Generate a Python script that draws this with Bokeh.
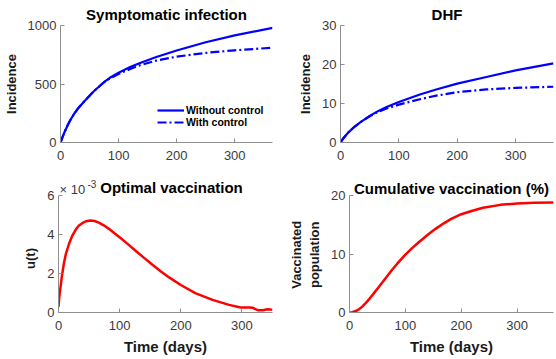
from bokeh.plotting import figure
from bokeh.layouts import column, row
from bokeh.models import Range1d, FixedTicker, Label, Legend, LegendItem, CustomJSTickFormatter
from bokeh.embed import file_html
from bokeh.resources import INLINE

# ---------------- data ----------------
# Symptomatic infection (incidence)
sym_t_no = [0, 3, 7, 12.5, 17, 23.8, 30, 40.8, 50, 57.8, 74.8, 85, 100, 120, 137, 165, 200, 250, 300, 365]
sym_no = [0, 40, 90, 150, 192, 248, 290, 351, 400, 440, 515, 553, 596, 645, 680, 731, 786, 857, 915, 980]
sym_t_ctl = [0, 3, 7, 12.5, 17, 23.8, 30, 40.8, 50, 57.8, 74.8, 85, 100, 120, 137, 165, 200, 250, 300, 365]
sym_ctl = [0, 40, 90, 150, 192, 248, 290, 351, 400, 440, 515, 548, 586, 628, 660, 700, 734, 766, 788, 810]

# DHF (incidence)
dhf_t_no = [0, 5, 10, 15, 22.6, 35, 50.8, 65, 79, 100, 136, 164, 200, 250, 300, 365]
dhf_no = [0, 1.1, 2.0, 2.8, 3.85, 5.3, 6.9, 8.1, 9.1, 10.4, 12.3, 13.6, 15.1, 16.8, 18.5, 20.3]
dhf_t_ctl = [0, 5, 10, 15, 22.6, 35, 50.8, 65, 79, 100, 136, 164, 200, 250, 300, 365]
dhf_ctl = [0, 1.1, 2.0, 2.8, 3.85, 5.3, 6.8, 7.9, 8.7, 9.7, 11.1, 12.0, 12.9, 13.6, 14.0, 14.3]

# Optimal vaccination u(t)
u_t = [0, 1, 2, 3.3, 5.5, 8.7, 12, 17, 22, 28, 33, 38.8, 45, 52.5, 59, 66, 74, 82.5, 90,
       100, 113, 126, 140, 153.6, 167, 181, 200, 224.6, 252, 279, 298, 312, 318, 322,
       326, 334, 342, 347, 350]
u_val = [0.00029, 0.0007, 0.001, 0.0013, 0.00185, 0.0025, 0.003, 0.0035, 0.0039, 0.00424,
         0.00445, 0.00458, 0.00468, 0.00472, 0.00469, 0.00461, 0.00447, 0.00429, 0.0041,
         0.00386, 0.00352, 0.00317, 0.0028, 0.00245, 0.00212, 0.0018, 0.00141, 0.00098,
         0.00065, 0.00039, 0.00026, 0.00026, 0.00024, 0.00017, 0.00012, 0.00012, 0.00017,
         0.00015, 0.00014]
u_ticks = [0, 0.002, 0.004, 0.006]
U_AXIS_MAX = 0.006

# Cumulative vaccination (%)
cv_t = [0, 5, 11.4, 17, 22.8, 28, 34, 42, 51, 60, 68, 77, 85, 100, 112, 125, 140, 154, 168,
        182, 200, 220, 239, 270, 300, 330, 365]
cv_val = [0, 0.05, 0.25, 0.55, 1.0, 1.5, 2.15, 3.1, 4.2, 5.3, 6.3, 7.4, 8.3, 9.9, 11.0, 12.1,
          13.3, 14.3, 15.2, 16.0, 16.8, 17.4, 17.9, 18.4, 18.65, 18.75, 18.8]
cv_ticks = [0, 10, 20]
CV_AXIS_MAX = 20

x_ticks = [0, 100, 200, 300]

FONT = "Liberation Sans"
AX = "#8f8f8f"
TXT = "#3a3a3a"
NB = "\u00a0"  # padding so a label stays centred on the bounded axis, not on the taller frame


def make(width, height, left, right, top, bottom, xmax, ymax, yticks, ylabel,
         title=None, standoff=0, xlabel=None, offset=0):
    p = figure(width=width, height=height, output_backend="svg", toolbar_location=None,
               x_range=Range1d(0, xmax), y_range=Range1d(0, ymax),
               min_border_left=left, min_border_right=right,
               min_border_top=top, min_border_bottom=bottom)
    if title:
        p.title.text = title
        p.title.align = "center"
        p.title.text_font = FONT
        p.title.text_font_style = "bold"
        p.title.text_font_size = "15px"
        p.title.text_color = "black"
        p.title.standoff = standoff
        p.title.offset = offset
    else:
        p.title = None
    p.outline_line_color = None
    p.grid.visible = False
    for ax in (p.xaxis, p.yaxis):
        ax.axis_line_color = AX
        ax.major_tick_line_color = AX
        ax.major_tick_in = 4
        ax.major_tick_out = 0
        ax.minor_tick_line_color = None
        ax.major_label_text_font = FONT
        ax.major_label_text_font_size = "13px"
        ax.major_label_text_color = TXT
        ax.axis_label_text_font = FONT
        ax.axis_label_text_font_style = "bold"
        ax.axis_label_text_font_size = "13px"
        ax.axis_label_text_color = "#1a1a1a"
    p.xaxis.ticker = FixedTicker(ticks=x_ticks)
    p.yaxis.ticker = FixedTicker(ticks=yticks)
    p.xaxis.major_label_standoff = 8
    p.yaxis.major_label_standoff = 4
    p.yaxis.axis_label = ylabel
    p.yaxis.axis_label_standoff = 6
    if xlabel:
        p.xaxis.axis_label = xlabel
        p.xaxis.axis_label_text_font_size = "15px"
        p.xaxis.axis_label_standoff = 5
    return p


def inner_title(p, text, x, y, yoff, xoff=0):
    p.add_layout(Label(x=x, y=y, x_offset=xoff, y_offset=yoff, text=text,
                       text_align="center", text_baseline="alphabetic", text_font=FONT,
                       text_font_style="bold", text_font_size="15px", text_color="black"))


# --- Symptomatic infection
p1 = make(286, 170, 58, 14, 25, 28, 365, 1000, [0, 500, 1000], "Incidence",
          "Symptomatic infection", 6)
r1 = p1.line(sym_t_no, sym_no, line_color="#0000ff", line_width=2.2)
r2 = p1.line(sym_t_ctl, sym_ctl, line_color="#0000ff", line_width=2.2, line_dash="9 3 2 3")
leg = Legend(items=[LegendItem(label="Without control", renderers=[r1]),
                    LegendItem(label="With control", renderers=[r2])],
             location=(97, 14), border_line_color=None, background_fill_alpha=0,
             label_text_font=FONT, label_text_font_style="bold",
             label_text_font_size="10.5px", label_text_color="black",
             glyph_width=27, glyph_height=10, label_height=10, label_standoff=2,
             spacing=-3, padding=0, margin=0)
p1.add_layout(leg)

# --- DHF
p2 = make(270, 170, 54, 3, 25, 28, 365, 30, [0, 10, 20, 30], "Incidence", "DHF", 6)
p2.line(dhf_t_no, dhf_no, line_color="#0000ff", line_width=2.2)
p2.line(dhf_t_ctl, dhf_ctl, line_color="#0000ff", line_width=2.2, line_dash="9 3 2 3")

# bottom row: frames extended upward (axes bounded) so titles / exponent sit inside them
EXT = 137 / 117

# --- Optimal vaccination
p3 = make(286, 189, 58, 14, 5, 47, 350, U_AXIS_MAX * EXT, u_ticks, "u(t)" + NB * 8,
          xlabel="Time (days)")
p3.yaxis.bounds = (0, U_AXIS_MAX)
p3.yaxis.formatter = CustomJSTickFormatter(code="return (tick*1000).toFixed(0);")
p3.line(u_t, u_val, line_color="#ff0000", line_width=2.5)
inner_title(p3, "Optimal vaccination", 175, U_AXIS_MAX, 8, xoff=6)
p3.add_layout(Label(x=0, y=U_AXIS_MAX, x_offset=1, y_offset=6.5, text="× 10",
                    text_align="left", text_baseline="alphabetic", text_font=FONT,
                    text_font_size="13px", text_color=TXT))
p3.add_layout(Label(x=0, y=U_AXIS_MAX, x_offset=29, y_offset=11.5, text="-3",
                    text_align="left", text_baseline="alphabetic", text_font=FONT,
                    text_font_size="10px", text_color=TXT))

# --- Cumulative vaccination
p4 = make(270, 189, 54, 3, 5, 47, 365, CV_AXIS_MAX * EXT, cv_ticks,
          "Vaccinated" + NB * 6 + "\npopulation" + NB * 6, xlabel="Time (days)")
p4.yaxis.bounds = (0, CV_AXIS_MAX)
p4.line(cv_t, cv_val, line_color="#ff0000", line_width=2.5)
inner_title(p4, "Cumulative vaccination (%)", 182.5, CV_AXIS_MAX, 7.5)

layout = column(row(p1, p2), row(p3, p4))
open("out.html", "w").write(file_html(layout, INLINE))
